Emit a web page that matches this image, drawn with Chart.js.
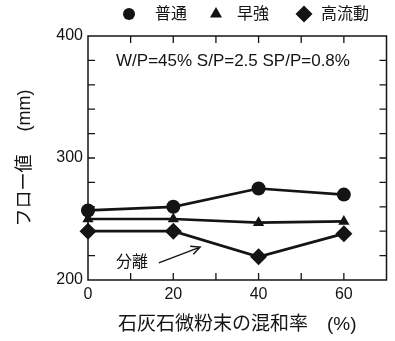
<!DOCTYPE html>
<html><head><meta charset="utf-8">
<script src="https://cdn.jsdelivr.net/npm/chart.js@4/dist/chart.umd.min.js"></script>
<style>html,body{margin:0;padding:0;background:#fff;}#wrap{width:395px;height:341px;}</style>
</head><body><div id="wrap"><canvas id="c" width="395" height="341"></canvas></div>
<script>
// ---- data ----
const mixRates = [0, 20, 40, 60];
const futsuFlow = [257, 260, 275, 270];
const sokyoFlow = [250, 250, 247, 248];
const koryudoFlow = [240, 240, 219, 238];
const seriesNames = ['普通', '早強', '高流動'];
const xLabelTicks = [0, 20, 40, 60];
const yLabelTicks = [200, 300, 400];
const conditionText = 'W/P=45% S/P=2.5 SP/P=0.8%';
const separationText = '分離';
const xTitle = '石灰石微粉末の混和率　(%)';
const yTitle = 'フロー値　 (mm)';

const INK = '#141414';
const FONT = "'Liberation Sans', 'Noto Sans CJK JP', sans-serif";

function pts(vals) { return mixRates.map((x, i) => ({x: x, y: vals[i]})); }

function drawMarker(ctx, style, r, x, y) {
  ctx.beginPath();
  if (style === 'circle') {
    ctx.arc(x, y, r, 0, Math.PI * 2);
  } else if (style === 'triangle') {
    ctx.moveTo(x, y - r);
    ctx.lineTo(x + r * Math.sin(2 * Math.PI / 3), y - r * Math.cos(2 * Math.PI / 3));
    ctx.lineTo(x + r * Math.sin(4 * Math.PI / 3), y - r * Math.cos(4 * Math.PI / 3));
  } else {
    ctx.moveTo(x - r, y); ctx.lineTo(x, y - r); ctx.lineTo(x + r, y); ctx.lineTo(x, y + r);
  }
  ctx.closePath();
  ctx.fillStyle = INK;
  ctx.fill();
}

const decorPlugin = {
  id: 'decor',
  beforeDatasetsDraw(chart) {
    const {ctx, chartArea: a, scales: {x, y}} = chart;
    ctx.save();
    ctx.strokeStyle = INK;
    ctx.lineWidth = 1.5;
    ctx.strokeRect(a.left, a.top, a.right - a.left, a.bottom - a.top);
    const tl = 7;
    ctx.lineWidth = 1.3;
    ctx.beginPath();
    x.ticks.forEach(t => {
      if (t.value <= x.min || t.value >= x.max) return;
      const px = x.getPixelForValue(t.value);
      ctx.moveTo(px, a.bottom); ctx.lineTo(px, a.bottom - tl);
      ctx.moveTo(px, a.top); ctx.lineTo(px, a.top + tl);
    });
    y.ticks.forEach(t => {
      if (t.value <= y.min || t.value >= y.max) return;
      const py = y.getPixelForValue(t.value);
      ctx.moveTo(a.left, py); ctx.lineTo(a.left + tl, py);
      ctx.moveTo(a.right, py); ctx.lineTo(a.right - tl, py);
    });
    ctx.stroke();
    ctx.restore();
  },
  afterDraw(chart) {
    const {ctx, scales: {x, y}} = chart;
    ctx.save();
    ctx.fillStyle = INK;
    ctx.strokeStyle = INK;
    // condition text
    ctx.font = '17px ' + FONT;
    ctx.textAlign = 'center';
    ctx.textBaseline = 'middle';
    ctx.fillText(conditionText, x.getPixelForValue(34), y.getPixelForValue(379));
    // separation label
    ctx.font = '16px ' + FONT;
    ctx.fillText(separationText, x.getPixelForValue(10.3), y.getPixelForValue(214));
    // arrow
    const x0 = x.getPixelForValue(16.6), y0 = y.getPixelForValue(214);
    const x1 = x.getPixelForValue(26.3), y1 = y.getPixelForValue(227);
    ctx.lineWidth = 1.4;
    ctx.beginPath();
    ctx.moveTo(x0, y0); ctx.lineTo(x1, y1);
    const ang = Math.atan2(y1 - y0, x1 - x0);
    const hl = 10, ha = 0.45;
    ctx.moveTo(x1 - hl * Math.cos(ang - ha), y1 - hl * Math.sin(ang - ha));
    ctx.lineTo(x1, y1);
    ctx.lineTo(x1 - hl * Math.cos(ang + ha), y1 - hl * Math.sin(ang + ha));
    ctx.stroke();
    // legend
    const legendPos = [129, 216, 304];
    const textGap = [26, 21, 17];
    ctx.font = '16px ' + FONT;
    ctx.textAlign = 'left';
    chart.data.datasets.forEach((ds, i) => {
      const mx = legendPos[i];
      drawMarker(ctx, ds.pointStyle, ds.pointStyle === 'rectRot' ? 8.5 : (ds.pointStyle === 'triangle' ? 7 : 6), mx, 14);
      ctx.fillStyle = INK;
      ctx.fillText(ds.label, mx + textGap[i], 15);
    });
    ctx.restore();
  }
};

const common = {
  borderColor: INK, backgroundColor: INK, borderWidth: 2.7,
  pointBackgroundColor: INK, pointBorderColor: INK, pointBorderWidth: 0,
  tension: 0, clip: false, fill: false
};

new Chart(document.getElementById('c'), {
  type: 'line',
  data: {
    datasets: [
      Object.assign({label: seriesNames[0], data: pts(futsuFlow), pointStyle: 'circle', pointRadius: 7}, common),
      Object.assign({label: seriesNames[1], data: pts(sokyoFlow), pointStyle: 'triangle', pointRadius: 6.5}, common),
      Object.assign({label: seriesNames[2], data: pts(koryudoFlow), pointStyle: 'rectRot', pointRadius: 8.5}, common)
    ]
  },
  options: {
    responsive: false,
    animation: false,
    devicePixelRatio: 1,
    layout: {padding: {top: 36, right: 5, left: 0, bottom: 0}},
    plugins: {legend: {display: false}, tooltip: {enabled: false}},
    scales: {
      x: {
        type: 'linear', min: 0, max: 70,
        grid: {display: false, drawTicks: false},
        border: {display: false},
        ticks: {
          stepSize: 10, padding: 5, color: INK, autoSkip: false, maxRotation: 0,
          font: {family: FONT, size: 16},
          callback: v => xLabelTicks.includes(v) ? String(v) : ''
        },
        title: {display: true, text: xTitle, color: INK, font: {family: FONT, size: 19}, padding: {top: 0, bottom: 5}},
        afterFit: s => { s.height = 61; }
      },
      y: {
        type: 'linear', min: 200, max: 400,
        grid: {display: false, drawTicks: false},
        border: {display: false},
        ticks: {
          stepSize: 20, padding: 5, color: INK, autoSkip: false,
          font: {family: FONT, size: 16},
          callback: v => yLabelTicks.includes(v) ? String(v) : ''
        },
        title: {display: true, text: yTitle, color: INK, font: {family: FONT, size: 18}, padding: {top: 14, bottom: 0}},
        afterFit: s => { s.width = 88; }
      }
    }
  },
  plugins: [decorPlugin]
});
</script></body></html>
